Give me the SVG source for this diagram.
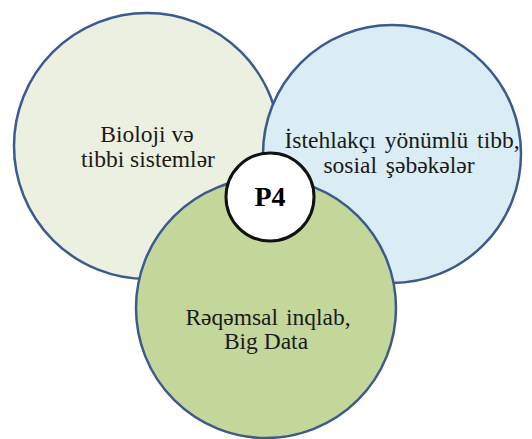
<svg xmlns="http://www.w3.org/2000/svg" width="532" height="439" viewBox="0 0 532 439">
<style>
.c{stroke:#3c5a8c;stroke-width:2.5}
.t{font-family:"Liberation Serif","DejaVu Serif","Times New Roman",serif;font-size:23.5px;fill:#1a1a1a;text-anchor:middle}
.p{font-family:"Liberation Serif","Times New Roman",serif;font-size:28px;font-weight:bold;fill:#000;text-anchor:middle}
</style>
<rect width="532" height="439" fill="#fff"/>
<g id="bio">
<circle class="c" cx="147" cy="146" r="133" fill="#ebf0e0"/>
<text class="t" x="147" y="142">Bioloji və</text>
<text class="t" x="148" y="167">tibbi sistemlər</text>
</g>
<g id="ist">
<circle class="c" cx="392" cy="154" r="129" fill="#daecf4"/>
<text class="t" x="402" y="148" word-spacing="3">İstehlakçı yönümlü tibb,</text>
<text class="t" x="399" y="173" word-spacing="3">sosial şəbəkələr</text>
</g>
<g id="req">
<circle class="c" cx="266" cy="308" r="130" fill="#c4d79b"/>
<text class="t" x="268" y="325" word-spacing="2">Rəqəmsal inqlab,</text>
<text class="t" x="266" y="349">Big Data</text>
</g>
<g id="p4">
<circle cx="270" cy="197" r="44" fill="#fff" stroke="#111" stroke-width="3"/>
<text class="p" x="270" y="206">P4</text>
</g>
<g id="connectors"/>
</svg>
